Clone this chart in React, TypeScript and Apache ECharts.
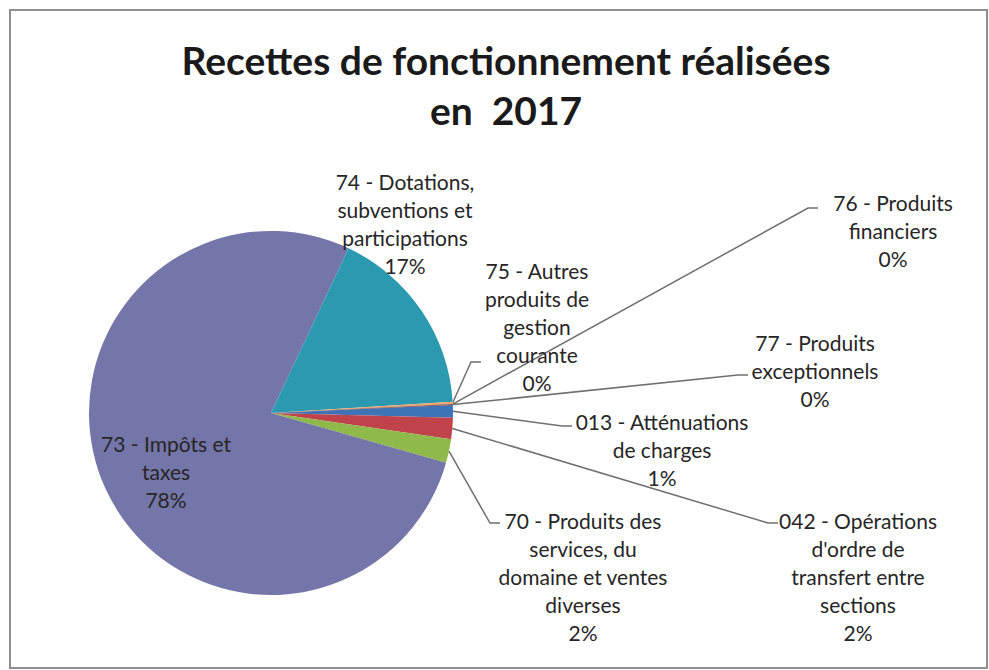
import React, { useEffect, useRef } from "react";
import * as echarts from "echarts";

const titleLines = ["Recettes de fonctionnement réalisées", "en  2017"];

const categories = [
  "013 - Atténuations\nde charges",
  "042 - Opérations\nd'ordre de\ntransfert entre\nsections",
  "70 - Produits des\nservices, du\ndomaine et ventes\ndiverses",
  "73 - Impôts et\ntaxes",
  "74 - Dotations,\nsubventions et\nparticipations",
  "75 - Autres\nproduits de\ngestion\ncourante",
  "76 - Produits\nfinanciers",
  "77 - Produits\nexceptionnels",
];

const values = [1.1, 1.9, 2.1, 77.6, 17.0, 0.2, 0.02, 0.08];

const colors = [
  "#3d74b6",
  "#c0424a",
  "#8fb94b",
  "#7475a8",
  "#2b9ab0",
  "#f2a46a",
  "#2c4d80",
  "#7a2e2c",
];

// label placement (centre of text block) and leader-line end, by category index
const labelCentres: ([number, number] | null)[] = [
  [662, 449],
  [858, 576],
  [583, 576],
  [166, 471],
  [405, 223],
  [537, 326],
  [893, 230],
  [815, 370],
];
const lineEnds: ([number, number] | null)[] = [
  [572, 426],
  [778, 523],
  [500, 523],
  null,
  null,
  [481, 362],
  [818, 208],
  [748, 375],
];

export default function App() {
  const ref = useRef<HTMLDivElement>(null);
  useEffect(() => {
    document.body.style.margin = "0";
    const chart = echarts.init(ref.current!, null, { renderer: "svg" });
    const font = "Lato, 'Open Sans', sans-serif";
    chart.setOption({
      animation: false,
      backgroundColor: "#ffffff",
      title: {
        text: titleLines.join("\n"),
        left: 501,
        top: 30,
        textAlign: "center",
        textStyle: {
          fontFamily: font,
          fontWeight: "bold",
          fontSize: 39,
          lineHeight: 50,
          color: "#1a1a1a",
        },
      },
      graphic: [
        {
          type: "rect",
          shape: { x: 10, y: 10, width: 977, height: 658 },
          style: { fill: "none", stroke: "#8f8f8f", lineWidth: 2 },
          silent: true,
        },
      ],
      series: [
        {
          type: "pie",
          center: [271, 413],
          radius: 182,
          startAngle: 2.5,
          clockwise: true,
          avoidLabelOverlap: false,
          itemStyle: { borderWidth: 0 },
          data: categories.map((c, i) => ({
            name: c,
            value: values[i],
            itemStyle: { color: colors[i] },
            labelLine: { show: lineEnds[i] !== null },
          })),
          label: {
            show: true,
            position: "outside",
            fontFamily: font,
            fontSize: 21,
            lineHeight: 28,
            color: "#262626",
            align: "center",
            formatter: (p: any) => `${p.name}\n${Math.round(p.percent)}%`,
          },
          labelLine: {
            show: true,
            lineStyle: { color: "#6f6f6f", width: 1.5 },
          },
          labelLayout: (params: any) => {
            const i = params.dataIndex;
            const c = labelCentres[i];
            const e = lineEnds[i];
            const res: any = {
              x: c ? c[0] : undefined,
              y: c ? c[1] : undefined,
              align: "center",
              verticalAlign: "middle",
            };
            if (e && params.labelLinePoints) {
              const start = params.labelLinePoints[0];
              res.labelLinePoints = [
                [start[0], start[1]],
                [e[0] - 10, e[1]],
                [e[0], e[1]],
              ];
            }
            return res;
          },
        },
      ],
    });
    return () => chart.dispose();
  }, []);
  return (
    <div
      ref={ref}
      style={{ position: "absolute", left: 0, top: 0, width: 989, height: 670 }}
    />
  );
}
